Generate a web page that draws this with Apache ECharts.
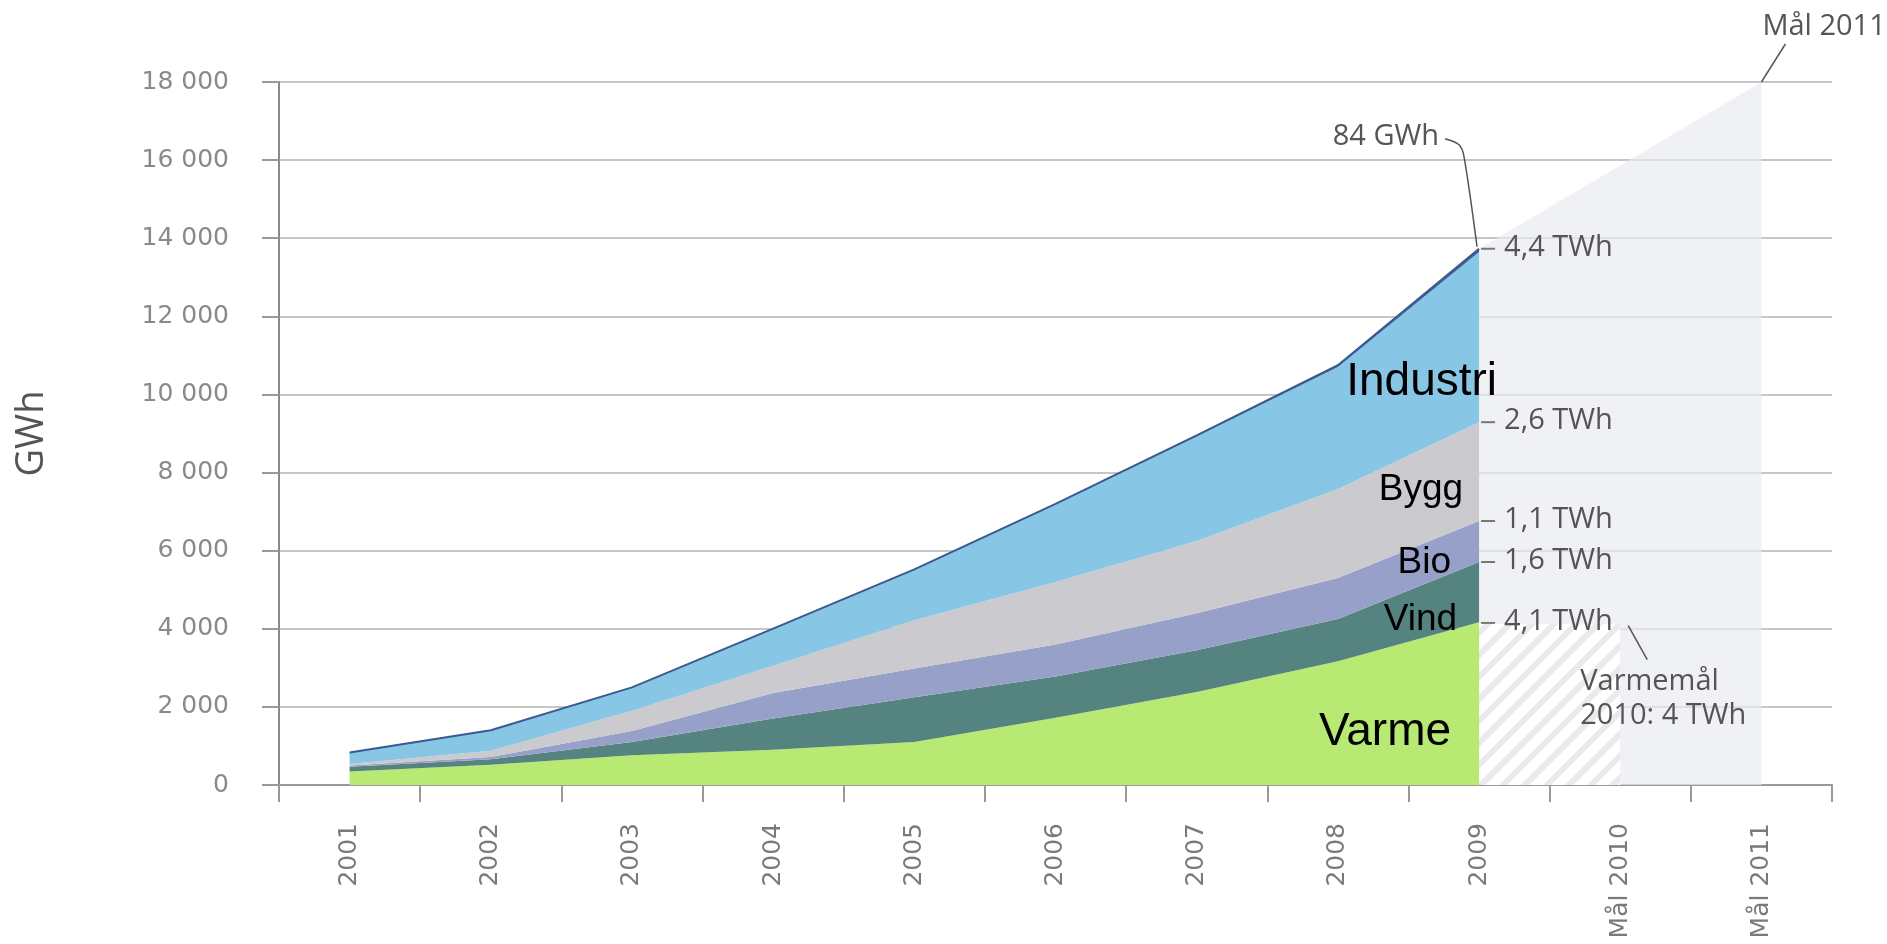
<!DOCTYPE html>
<html>
<head>
<meta charset="utf-8">
<script src="https://cdn.jsdelivr.net/npm/echarts@6/dist/echarts.min.js"></script>
<style>
html,body{margin:0;padding:0;background:#fff}
#chart{width:1887px;height:944px}
</style>
</head>
<body>
<div id="chart"></div>
<script>
// categories
var years = ['2001','2002','2003','2004','2005','2006','2007','2008','2009','Mål 2010','Mål 2011'];
// GWh per sector, 2001-2009 (stacked)
var varme    = [345, 520, 760, 905, 1100, 1720, 2380, 3170, 4170];
var vind     = [125, 140, 340, 800, 1150, 1060, 1070, 1080, 1540];
var bio      = [30, 60, 280, 650, 730, 820, 950, 1050, 1050];
var bygg     = [40, 160, 520, 700, 1240, 1600, 1850, 2280, 2530];
var industri = [285, 514, 592, 940, 1288, 1980, 2670, 3125, 4356];
var sol      = [5, 6, 8, 10, 12, 20, 30, 45, 84];
// targets: total 2009 -> Mål 2011, heat target 2009 -> Mål 2010
var malTotal = [13730, 15865, 18000];
var varmeMal = [4130, 4130];
var yMax = 18000, yStep = 2000;

function pad(arr, before, after){
  var out = [];
  for (var i = 0; i < before; i++) out.push('-');
  out = out.concat(arr);
  for (var j = 0; j < after; j++) out.push('-');
  return out;
}

// hatch pattern for the heat target
var pc = document.createElement('canvas');
pc.width = 22; pc.height = 22;
var g = pc.getContext('2d');
g.fillStyle = '#ffffff'; g.fillRect(0, 0, 22, 22);
g.strokeStyle = '#e9eaed'; g.lineWidth = 6;
g.beginPath();
g.moveTo(-2, 24); g.lineTo(24, -2);
g.moveTo(-13, 13); g.lineTo(13, -13);
g.moveTo(9, 35); g.lineTo(35, 9);
g.stroke();

function area(name, data, color, extra){
  var s = {
    name: name, type: 'line', stack: 'total', data: pad(data, 0, 2),
    showSymbol: false, symbol: 'none',
    lineStyle: {width: 0}, areaStyle: {color: color, opacity: 1},
    z: 3, silent: true
  };
  if (extra) s.lineStyle = extra;
  return s;
}

var chart = echarts.init(document.getElementById('chart'));
chart.setOption({
  animation: false,
  backgroundColor: '#fff',
  grid: {left: 279, right: 55, top: 82, bottom: 159},
  xAxis: {
    type: 'category', data: years, boundaryGap: true,
    axisLine: {lineStyle: {color: '#9a9a9a', width: 2}},
    axisTick: {show: true, length: 17, lineStyle: {color: '#9a9a9a', width: 2}},
    axisLabel: {rotate: 90, margin: 38, fontFamily: 'DejaVu Sans', fontSize: 25, color: '#7a7a7a'}
  },
  yAxis: {
    type: 'value', min: 0, max: yMax, interval: yStep,
    name: 'GWh', nameLocation: 'middle', nameRotate: 90, nameGap: 228,
    nameTextStyle: {fontFamily: 'Open Sans', fontSize: 38, color: '#555'},
    axisLine: {show: true, lineStyle: {color: '#8a8a8a', width: 2}},
    axisTick: {show: true, length: 17, lineStyle: {color: '#9a9a9a', width: 2}},
    axisLabel: {
      margin: 50, fontFamily: 'DejaVu Sans', fontSize: 25, color: '#8a8a8a',
      formatter: function(v){ return String(v).replace(/\B(?=(\d{3})+(?!\d))/g, ' '); }
    },
    splitLine: {lineStyle: {color: '#c6c6c6', width: 2}}
  },
  series: [
    {
      name: 'Mål', type: 'line', data: pad(malTotal, 8, 0),
      showSymbol: false, symbol: 'none', lineStyle: {width: 0},
      areaStyle: {color: '#e9ebef', opacity: 0.7}, z: 2, silent: true
    },
    {
      name: 'Varmemål', type: 'line', data: pad(varmeMal, 8, 1),
      showSymbol: false, symbol: 'none', lineStyle: {width: 0},
      areaStyle: {color: {image: pc, repeat: 'repeat'}, opacity: 1}, z: 2, silent: true
    },
    area('Varme', varme, '#b8ea73'),
    area('Vind', vind, '#55837f'),
    area('Bio', bio, '#97a0c8'),
    area('Bygg', bygg, '#cbcacf'),
    area('Industri', industri, '#88c6e5'),
    area('Sol', sol, '#3f5f96', {width: 2, color: '#3a5a90'})
  ]
});

function px(i, v){ return chart.convertToPixel({gridIndex: 0}, [i, v]); }

var p9 = px(8, malTotal[0]);
var x9 = p9[0];
var big = {fontFamily: 'Liberation Sans', fill: '#000'};
var note = {fontFamily: 'Open Sans', fontSize: 29, fill: '#555'};
var gr = [];

// sector names inside the areas
[['Industri', 10320, 18, 46], ['Bygg', 7550, -16, 37], ['Bio', 5700, -28, 37],
 ['Vind', 4220, -22, 37], ['Varme', 1360, -28, 46]].forEach(function(t){
  var p = px(8, t[1]);
  gr.push({type: 'text', z: 20, style: {text: t[0], x: x9 + t[2], y: p[1],
    align: 'right', verticalAlign: 'middle', fontSize: t[3],
    fontFamily: big.fontFamily, fill: big.fill}});
});

// TWh notes at 2009
[['4,4 TWh', 13730], ['2,6 TWh', 9290], ['1,1 TWh', 6760], ['1,6 TWh', 5710], ['4,1 TWh', 4150]].forEach(function(t){
  var y = px(8, t[1])[1];
  gr.push({type: 'line', z: 20, shape: {x1: x9 + 2, y1: y, x2: x9 + 16, y2: y},
    style: {stroke: '#777', lineWidth: 2}});
  gr.push({type: 'text', z: 20, style: {text: t[0], x: x9 + 25, y: y - 1,
    align: 'left', verticalAlign: 'middle', fontFamily: note.fontFamily, fontSize: note.fontSize, fill: note.fill}});
});

// 84 GWh callout
gr.push({type: 'text', z: 20, style: {text: '84 GWh', x: x9 - 40, y: p9[1] - 112,
  align: 'right', verticalAlign: 'middle', fontFamily: note.fontFamily, fontSize: note.fontSize, fill: note.fill}});
gr.push({type: 'polyline', z: 20, shape: {points: [[x9 - 34, p9[1] - 110], [x9 - 20, p9[1] - 104],
  [x9 - 15, p9[1] - 92], [x9 - 2, p9[1] - 2]], smooth: 0.3},
  style: {stroke: '#555', lineWidth: 1.5, fill: null}});

// Mål 2011 callout
var p11 = px(10, malTotal[2]);
gr.push({type: 'line', z: 20, shape: {x1: p11[0], y1: p11[1], x2: p11[0] + 24, y2: p11[1] - 38},
  style: {stroke: '#555', lineWidth: 1.5}});
gr.push({type: 'text', z: 20, style: {text: 'Mål 2011', x: p11[0] + 1, y: p11[1] - 55,
  align: 'left', verticalAlign: 'middle', fontFamily: note.fontFamily, fontSize: note.fontSize, fill: note.fill}});

// heat target callout
var p10 = px(9, varmeMal[1]);
gr.push({type: 'line', z: 20, shape: {x1: p10[0] + 8, y1: p10[1] + 2, x2: p10[0] + 27, y2: p10[1] + 36},
  style: {stroke: '#555', lineWidth: 1.5}});
gr.push({type: 'text', z: 20, style: {text: 'Varmemål\n2010: 4 TWh', x: p10[0] - 40, y: p10[1] + 41,
  align: 'left', verticalAlign: 'top', lineHeight: 34, fontFamily: note.fontFamily, fontSize: note.fontSize, fill: note.fill}});

chart.setOption({graphic: gr});
</script>
</body>
</html>
